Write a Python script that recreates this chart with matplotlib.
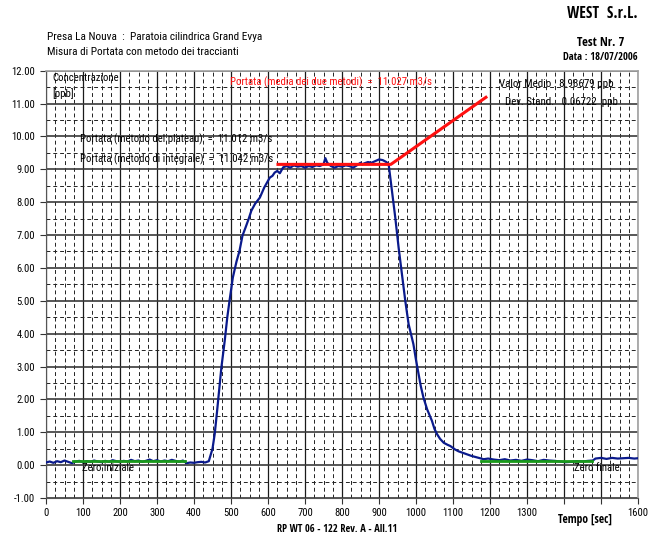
import matplotlib
matplotlib.use("Agg")
import matplotlib.pyplot as plt
import matplotlib.font_manager as fm
from matplotlib.ticker import MultipleLocator, FixedLocator, FixedFormatter

# ---- data ----
time_s = [0, 10, 20, 30, 40, 50, 60, 70, 80, 90, 100, 110, 120, 130, 140, 150, 160, 170,
          180, 190, 200, 210, 220, 230, 240, 250, 260, 270, 280, 290, 300, 310, 320, 330,
          340, 350, 360, 370, 380, 390, 400, 410, 420, 430, 440,
          450, 456, 462, 468, 474, 483, 490, 496, 505, 515, 523, 531, 540, 548, 555, 565,
          578, 590, 605, 612, 618, 625, 632, 641, 650, 660, 670, 680, 690, 700, 710, 720,
          730, 740, 750, 755, 760, 770, 780, 790, 800, 810, 820, 830, 840, 850, 855, 860,
          870, 880, 890, 900, 910, 920, 926, 935, 944, 953, 962, 971, 980, 993, 1000, 1007,
          1013, 1020, 1030, 1043, 1050, 1057, 1065, 1075, 1085, 1093, 1105, 1115, 1125,
          1138, 1150, 1160, 1170, 1183,
          1195, 1210, 1225, 1240, 1255, 1270, 1285, 1300, 1315, 1330, 1345, 1360, 1375,
          1390, 1405, 1420, 1435, 1450, 1465, 1478, 1485, 1500, 1515, 1530, 1545, 1560,
          1575, 1590, 1600]
conc_ppb = [0.08, 0.11, 0.07, 0.12, 0.09, 0.14, 0.10, 0.06, 0.11, 0.13, 0.09, 0.12, 0.10,
            0.14, 0.11, 0.09, 0.13, 0.10, 0.15, 0.12, 0.10, 0.13, 0.11, 0.16, 0.12, 0.14,
            0.10, 0.13, 0.17, 0.12, 0.15, 0.11, 0.14, 0.12, 0.16, 0.13, 0.10, 0.14, 0.06,
            0.08, 0.07, 0.09, 0.10, 0.08, 0.12,
            0.50, 0.95, 1.60, 2.30, 2.97, 3.78, 4.50, 5.00, 5.71, 6.20, 6.52, 6.98, 7.25,
            7.50, 7.74, 7.95, 8.14, 8.45, 8.75, 8.80, 8.90, 8.95, 8.88, 9.06, 9.10, 9.05,
            9.12, 9.08, 9.10, 9.05, 9.10, 9.07, 9.12, 9.10, 9.15, 9.34, 9.20, 9.10, 9.05,
            9.10, 9.08, 9.12, 9.10, 9.05, 9.12, 9.20, 9.15, 9.18, 9.22, 9.20, 9.25, 9.30,
            9.28, 9.22, 9.16, 8.35, 7.53, 6.62, 5.81, 5.00, 4.29, 3.68, 3.20, 2.77, 2.40,
            2.06, 1.70, 1.35, 1.10, 0.94, 0.80, 0.68, 0.62, 0.58, 0.48, 0.42, 0.38, 0.33,
            0.28, 0.25, 0.22, 0.18,
            0.20, 0.17, 0.15, 0.18, 0.14, 0.16, 0.13, 0.17, 0.15, 0.12, 0.16, 0.14, 0.13,
            0.11, 0.09, 0.10, 0.12, 0.11, 0.13, 0.14, 0.20, 0.22, 0.19, 0.22, 0.20, 0.21,
            0.22, 0.20, 0.21]

plateau_t = [627, 932, 1189]
plateau_v = [9.15, 9.15, 11.19]
zero_init_t = [74, 376]
zero_init_v = [0.12, 0.12]
zero_fin_t = [1177, 1475]
zero_fin_v = [0.12, 0.12]

x_ticks = [0, 100, 200, 300, 400, 500, 600, 700, 800, 900, 1000, 1100, 1200, 1300, 1400, 1500, 1600]
x_labels = ['0', '100', '200', '300', '400', '500', '600', '700', '800', '900', '1000',
            '1100', '1200', '1300', '', '', '1600']
y_ticks = [-1, 0, 1, 2, 3, 4, 5, 6, 7, 8, 9, 10, 11, 12]

# ---- figure ----
fig = plt.figure(figsize=(6.6, 5.37), dpi=100)
W, H = 660, 537
renderer = fig.canvas.get_renderer()


def text_w(s, prop):
    w, h, d = renderer.get_text_width_height_descent(s, prop, ismath=False)
    return w


def _weight(f):
    w = f.weight
    if isinstance(w, str):
        return fm.weight_dict.get(w.lower(), 400)
    return int(w)


# pick the installed sans font closest to Arial Narrow (about 0.82 x Arial width)
SAMPLE = 'Presa La Nouva : Paratoia cilindrica Grand Evya 0123456789'
SANS_FAMILIES = ('liberation sans', 'arial', 'noto sans', 'open sans', 'roboto',
                 'dejavu sans', 'lato', 'inter')


def pick_narrow(bold):
    ref = fm.FontProperties(family='Liberation Sans', size=10,
                            weight='bold' if bold else 'normal')
    ref_w = text_w(SAMPLE, ref)
    target_w = 700 if bold else 400
    best, best_score = None, None
    seen = set()
    for f in fm.fontManager.ttflist:
        n = f.name.lower()
        if f.fname in seen:
            continue
        seen.add(f.fname)
        if str(f.style).lower() != 'normal':
            continue
        if not n.startswith(SANS_FAMILIES):
            continue
        if any(k in n for k in ('mono', 'cjk', 'math', 'symbol', 'emoji')):
            continue
        wt = _weight(f)
        if bold and wt < 600:
            continue
        if not bold and (wt < 300 or wt > 500):
            continue
        try:
            r = text_w(SAMPLE, fm.FontProperties(fname=f.fname, size=10)) / ref_w
        except Exception:
            continue
        score = abs(r - 0.82) + abs(wt - target_w) / 400 * 0.1
        if best_score is None or score < best_score:
            best, best_score = f.fname, score
    if best is None or best_score > 0.12:
        return None
    return best


REG = pick_narrow(False)
BLD = pick_narrow(True)


def base_prop(bold, size=10):
    path = BLD if bold else REG
    if path:
        return fm.FontProperties(fname=path, size=size)
    return fm.FontProperties(family='Liberation Sans', size=size,
                             weight='bold' if bold else 'normal')


def fit(s, target_px, bold=False):
    """font size so that text s is target_px wide"""
    w = text_w(s, base_prop(bold, 10))
    return base_prop(bold, 10 * target_px / w)


ax = fig.add_axes([46 / W, 1 - 498 / H, (638 - 46) / W, (498 - 70.7) / H])
ax.set_xlim(0, 1600)
ax.set_ylim(-1, 12)

ax.xaxis.set_major_locator(FixedLocator(x_ticks))
ax.xaxis.set_major_formatter(FixedFormatter(x_labels))
ax.yaxis.set_major_locator(FixedLocator(y_ticks))
ax.yaxis.set_major_formatter(plt.FuncFormatter(lambda v, p: f"{v:.2f}"))
ax.xaxis.set_minor_locator(MultipleLocator(25))
ax.yaxis.set_minor_locator(MultipleLocator(0.5))

ax.xaxis.grid(True, which='major', color='#1a1a1a', linewidth=0.9, linestyle='-')
ax.yaxis.grid(True, which='major', color='#3a3a3a', linewidth=1.2, linestyle='-')
ax.grid(which='minor', color='#222222', linewidth=0.7, linestyle=(0, (4, 3)))
ax.tick_params(which='minor', length=0)
ax.tick_params(which='major', direction='out', length=4, width=0.8, color='#333333', pad=4)
ax.tick_params(axis='x', pad=3)
TICK = fit('12.00', 23.5)
for lab in ax.get_xticklabels() + ax.get_yticklabels():
    lab.set_fontproperties(TICK)

for s in ['left', 'bottom']:
    ax.spines[s].set_color('#555555')
for s in ['top', 'right']:
    ax.spines[s].set_color('#a0a0a0')
    ax.spines[s].set_linewidth(1.2)

ax.plot(time_s, conc_ppb, color='#0a1a8c', linewidth=1.6, zorder=3)
ax.plot(zero_init_t, zero_init_v, color='#1a9a1a', linewidth=2.0, zorder=4)
ax.plot(zero_fin_t, zero_fin_v, color='#1a9a1a', linewidth=2.0, zorder=4)
ax.plot(plateau_t, plateau_v, color='#ff1010', linewidth=2.2, zorder=5)

T = fit('Portata (metodo del plateau)  =  11.012 m3/s', 189)
ax.text(18, 11.77, 'Concentrazione', va='center', ha='left', fontproperties=T, zorder=6)
ax.text(18, 11.31, '[ppb]', va='center', ha='left', fontproperties=T, zorder=6)
ax.text(92, 9.92, 'Portata (metodo del plateau)  =  11.012 m3/s', va='center', ha='left', fontproperties=T, zorder=6)
ax.text(92, 9.31, 'Portata (metodo di integrale)  =  11.042 m3/s', va='center', ha='left', fontproperties=T, zorder=6)
ax.text(497, 11.66, 'Portata (media dei due metodi)  =  11.027 m3/s', va='center', ha='left',
        fontproperties=T, color='#ff1010', zorder=6)
ax.text(1224, 11.59, 'Valor Medio . 8.98679 ppb', va='center', ha='left',
        fontproperties=fit('Valor Medio . 8.98679 ppb', 114), zorder=6)
ax.text(1241, 11.05, 'Dev. Stand.   0.06722  ppb', va='center', ha='left',
        fontproperties=fit('Dev. Stand.   0.06722  ppb', 112), zorder=6)
ax.text(96, -0.1, 'Zero iniziale', va='center', ha='left', fontproperties=T, zorder=6)
ax.text(1550, -0.1, 'Zero finale', va='center', ha='right', fontproperties=T, zorder=6)

# header / footer texts
HDR = fit('Presa La Nouva  :  Paratoia cilindrica Grand Evya', 215)
fig.text(638 / W, 1 - 13.5 / H, 'WEST  S.r.L.', ha='right', va='center',
         fontproperties=fit('WEST  S.r.L.', 70, True))
fig.text(47 / W, 1 - 37 / H, 'Presa La Nouva  :  Paratoia cilindrica Grand Evya', ha='left', va='center', fontproperties=HDR)
fig.text(47 / W, 1 - 52 / H, 'Misura di Portata con metodo dei traccianti', ha='left', va='center', fontproperties=HDR)
fig.text(601 / W, 1 - 43 / H, 'Test Nr. 7', ha='center', va='center', fontproperties=fit('Test Nr. 7', 47, True))
fig.text(600 / W, 1 - 57 / H, 'Data : 18/07/2006', ha='center', va='center', fontproperties=fit('Data : 18/07/2006', 74, True))
fig.text(585 / W, 1 - 519 / H, 'Tempo [sec]', ha='center', va='center', fontproperties=fit('Tempo [sec]', 54, True))
fig.text(337.5 / W, 1 - 530 / H, 'RP WT 06 - 122 Rev. A - All.11', ha='center', va='center',
         fontproperties=fit('RP WT 06 - 122 Rev. A - All.11', 119, True))

fig.savefig('out.png', dpi=100)
